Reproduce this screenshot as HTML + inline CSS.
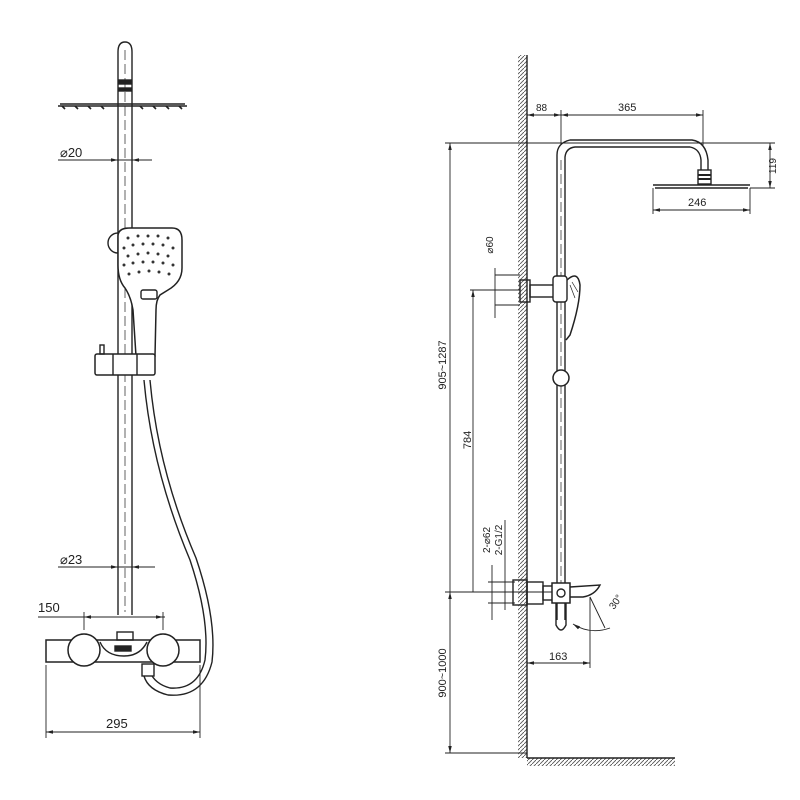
<!DOCTYPE html>
<html><head><style>body{margin:0;background:#fff}svg{display:block}text{font-family:"Liberation Sans",sans-serif;fill:#222}</style></head><body>
<svg width="800" height="800" viewBox="0 0 800 800" xmlns="http://www.w3.org/2000/svg">
<defs>
<pattern id="h" width="4" height="4" patternUnits="userSpaceOnUse"><path d="M0,4 L4,0" stroke="#555" stroke-width="0.9"/></pattern>
<marker id="a" markerWidth="8" markerHeight="6" refX="8" refY="3" orient="auto-start-reverse"><path d="M0,1 L8,3 L0,5z" fill="#222"/></marker>
</defs>
<g fill="none" stroke="#222" stroke-width="1.4">
<!-- LEFT VIEW -->
<path d="M118,615 V52 Q118,42 125,42 Q132,42 132,52 V615"/>
<line x1="125" y1="50" x2="125" y2="612" stroke-dasharray="10,4" stroke-width="0.7"/>
<rect x="119" y="80" width="12" height="4" fill="#222"/>
<rect x="119" y="88" width="12" height="3" fill="#222"/>
<path d="M58,106 L187,106 M60,104 L185,104"/>
<path d="M62,106 l3,3 M75,106 l3,3 M88,106 l3,3 M101,106 l3,3 M140,106 l3,3 M153,106 l3,3 M166,106 l3,3 M179,106 l3,3" stroke-width="1.6"/>
<line x1="58" y1="160" x2="152" y2="160" stroke-width="0.9"/>
<line x1="104" y1="160" x2="118" y2="160" marker-end="url(#a)" stroke-width="0.9"/>
<line x1="146" y1="160" x2="132" y2="160" marker-end="url(#a)" stroke-width="0.9"/>
<!-- handshower -->
<circle cx="118" cy="243" r="10"/>
<path d="M118,236 Q118,228 130,228 L172,228 Q182,228 182,240 L182,268 Q182,282 168,290 L160,295 Q156,300 156,310 L155,356 L136,356 L133,310 Q131,297 125,288 Q118,280 118,265 Z" fill="#fff" stroke-width="1.5"/>
<rect x="141" y="290" width="16" height="9" rx="2"/>
<g fill="#333" stroke="none">
<circle cx="128" cy="238" r="1.5"/><circle cx="138" cy="236" r="1.5"/><circle cx="148" cy="236" r="1.5"/><circle cx="158" cy="236" r="1.5"/><circle cx="168" cy="238" r="1.5"/>
<circle cx="124" cy="248" r="1.5"/><circle cx="133" cy="245" r="1.5"/><circle cx="143" cy="244" r="1.5"/><circle cx="153" cy="244" r="1.5"/><circle cx="163" cy="245" r="1.5"/><circle cx="173" cy="248" r="1.5"/>
<circle cx="128" cy="256" r="1.5"/><circle cx="138" cy="254" r="1.5"/><circle cx="148" cy="253" r="1.5"/><circle cx="158" cy="254" r="1.5"/><circle cx="168" cy="256" r="1.5"/>
<circle cx="124" cy="265" r="1.5"/><circle cx="133" cy="263" r="1.5"/><circle cx="143" cy="262" r="1.5"/><circle cx="153" cy="262" r="1.5"/><circle cx="163" cy="263" r="1.5"/><circle cx="173" cy="265" r="1.5"/>
<circle cx="129" cy="274" r="1.5"/><circle cx="139" cy="272" r="1.5"/><circle cx="149" cy="271" r="1.5"/><circle cx="159" cy="272" r="1.5"/><circle cx="169" cy="274" r="1.5"/>
</g>
<!-- holder -->
<rect x="95" y="354" width="60" height="21" rx="2" fill="#fff" stroke-width="1.5"/>
<line x1="113" y1="354" x2="113" y2="375"/><line x1="137" y1="354" x2="137" y2="375"/>
<rect x="100" y="345" width="4" height="9"/>
<!-- hose -->
<path d="M144,380 Q152,470 190,560 Q210,620 205,660 Q198,690 170,688 Q155,684 150,672"/>
<path d="M150,380 Q158,470 196,558 Q217,620 212,662 Q203,698 168,695 Q148,690 144,676"/>
<rect x="142" y="664" width="12" height="12" fill="#fff"/>
<!-- mixer -->
<line x1="58" y1="567" x2="155" y2="567" stroke-width="0.9"/>
<line x1="106" y1="567" x2="118" y2="567" marker-end="url(#a)" stroke-width="0.9"/>
<line x1="144" y1="567" x2="132" y2="567" marker-end="url(#a)" stroke-width="0.9"/>
<line x1="38" y1="617" x2="165" y2="617" stroke-width="0.9"/>
<line x1="84" y1="617" x2="163" y2="617" marker-start="url(#a)" marker-end="url(#a)" stroke-width="0.9"/>
<line x1="84" y1="612" x2="84" y2="630" stroke-width="0.9"/><line x1="163" y1="612" x2="163" y2="630" stroke-width="0.9"/>
<rect x="46" y="640" width="154" height="22" stroke-width="1.5"/>
<circle cx="84" cy="650" r="16" fill="#fff" stroke-width="1.5"/>
<circle cx="163" cy="650" r="16" fill="#fff" stroke-width="1.5"/>
<path d="M100,642 Q106,656 124,656 Q140,656 147,642" />
<rect x="115" y="646" width="16" height="5" fill="#222"/>
<rect x="117" y="632" width="16" height="8"/>
<line x1="46" y1="665" x2="46" y2="738" stroke-width="0.9"/><line x1="200" y1="665" x2="200" y2="738" stroke-width="0.9"/>
<line x1="46" y1="732" x2="200" y2="732" marker-start="url(#a)" marker-end="url(#a)" stroke-width="0.9"/>

<!-- RIGHT VIEW -->
<rect x="518" y="55" width="9" height="703" fill="url(#h)" stroke="none"/>
<line x1="527" y1="55" x2="527" y2="758"/>
<rect x="527" y="758" width="148" height="8" fill="url(#h)" stroke="none"/>
<line x1="527" y1="758" x2="675" y2="758"/>
<path d="M557,620 V155 Q557,143 570,140 L692,140 Q706,142 708,160 V170"/>
<path d="M565,620 V157 Q566,148 575,147 L690,147 Q700,149 701,160 V170"/>
<line x1="561" y1="160" x2="561" y2="600" stroke-dasharray="10,4" stroke-width="0.7"/>
<rect x="698" y="170" width="13" height="14"/>
<line x1="698" y1="175" x2="711" y2="175" stroke-width="2"/><line x1="698" y1="179" x2="711" y2="179" stroke-width="2"/>
<path d="M653,185 L750,185 M655,188 L748,188"/>
<line x1="527" y1="115" x2="561" y2="115" marker-start="url(#a)" marker-end="url(#a)" stroke-width="0.9"/>
<line x1="561" y1="115" x2="703" y2="115" marker-start="url(#a)" marker-end="url(#a)" stroke-width="0.9"/>
<line x1="561" y1="110" x2="561" y2="145" stroke-width="0.9"/><line x1="703" y1="110" x2="703" y2="145" stroke-width="0.9"/>
<line x1="445" y1="143" x2="775" y2="143" stroke-width="0.9"/>
<line x1="750" y1="188" x2="775" y2="188" stroke-width="0.9"/>
<line x1="770" y1="143" x2="770" y2="188" marker-start="url(#a)" marker-end="url(#a)" stroke-width="0.9"/>
<line x1="653" y1="188" x2="653" y2="214" stroke-width="0.9"/><line x1="750" y1="188" x2="750" y2="214" stroke-width="0.9"/>
<line x1="653" y1="210" x2="750" y2="210" marker-start="url(#a)" marker-end="url(#a)" stroke-width="0.9"/>
<line x1="470" y1="290" x2="520" y2="290" stroke-width="0.9"/>
<line x1="495" y1="275" x2="520" y2="275" stroke-width="0.9"/><line x1="495" y1="305" x2="520" y2="305" stroke-width="0.9"/>
<line x1="495" y1="268" x2="495" y2="318" stroke-width="0.9"/>
<rect x="520" y="280" width="10" height="22"/>
<rect x="530" y="285" width="25" height="12"/>
<rect x="553" y="276" width="14" height="26" rx="3" fill="#fff"/>
<path d="M567,280 Q578,270 580,285 Q580,305 570,335 L566,340" stroke-width="1.5"/>
<path d="M570,285 L575,298 M572,282 L578,292" stroke-width="0.7"/>
<circle cx="561" cy="378" r="8" fill="#fff" stroke-width="1.5"/>
<line x1="450" y1="143" x2="450" y2="592" marker-start="url(#a)" stroke-width="0.9"/>
<line x1="450" y1="592" x2="450" y2="753" marker-start="url(#a)" marker-end="url(#a)" stroke-width="0.9"/>
<line x1="445" y1="753" x2="527" y2="753" stroke-width="0.9"/>
<line x1="473" y1="290" x2="473" y2="592" marker-start="url(#a)" stroke-width="0.9"/>
<line x1="445" y1="592" x2="552" y2="592" stroke-width="0.9"/>
<line x1="492" y1="565" x2="492" y2="620" stroke-width="0.9"/>
<line x1="505" y1="520" x2="505" y2="610" stroke-width="0.9"/>
<line x1="488" y1="582" x2="515" y2="582" stroke-width="0.9"/><line x1="488" y1="603" x2="515" y2="603" stroke-width="0.9"/>
<rect x="513" y="580" width="14" height="25"/>
<rect x="527" y="582" width="16" height="22"/>
<rect x="543" y="586" width="10" height="14"/>
<rect x="552" y="583" width="18" height="20" fill="#fff" stroke-width="1.5"/>
<circle cx="561" cy="593" r="4"/>
<path d="M570,587 L600,585 Q595,595 583,597 L570,597"/>
<path d="M556,603 V625 Q561,635 566,625 V603"/>
<line x1="590" y1="597" x2="590" y2="668" stroke-width="0.9"/>
<line x1="590" y1="597" x2="605" y2="628" stroke-width="0.9"/>
<path d="M573,624 Q590,635 610,628" marker-start="url(#a)" stroke-width="0.9"/>
<line x1="527" y1="663" x2="590" y2="663" marker-start="url(#a)" marker-end="url(#a)" stroke-width="0.9"/>
</g>
<g font-size="13">
<text x="60" y="157">⌀20</text>
<text x="60" y="564">⌀23</text>
<text x="38" y="612">150</text>
<text x="106" y="728">295</text>
<text x="536" y="111" font-size="10">88</text>
<text x="618" y="111" font-size="11">365</text>
<text x="688" y="206" font-size="11">246</text>
<text transform="translate(776,166) rotate(-90)" text-anchor="middle" font-size="10">119</text>
<text transform="translate(446,365) rotate(-90)" text-anchor="middle" font-size="11">905~1287</text>
<text transform="translate(471,440) rotate(-90)" text-anchor="middle" font-size="11">784</text>
<text transform="translate(493,245) rotate(-90)" text-anchor="middle" font-size="10">⌀60</text>
<text transform="translate(490,540) rotate(-90)" text-anchor="middle" font-size="10">2-⌀62</text>
<text transform="translate(502,540) rotate(-90)" text-anchor="middle" font-size="10">2-G1/2</text>
<text transform="translate(446,673) rotate(-90)" text-anchor="middle" font-size="11">900~1000</text>
<text x="549" y="660" font-size="11">163</text>
<text transform="translate(614,610) rotate(-55)" font-size="10">30°</text>
</g>
</svg>
</body></html>
